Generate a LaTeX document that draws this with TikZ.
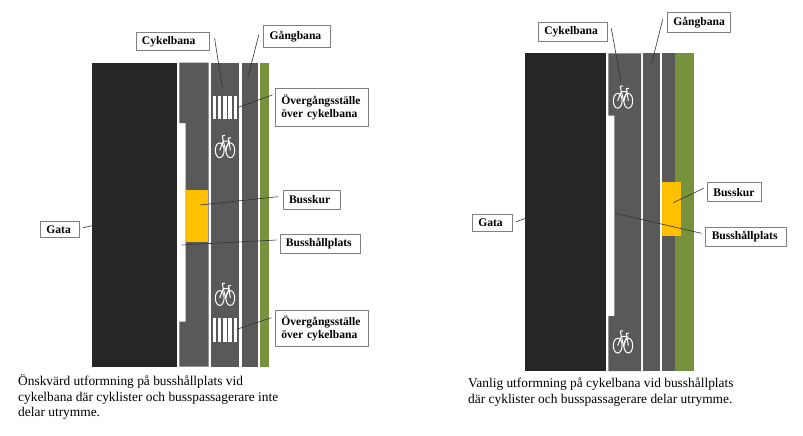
\documentclass[tikz,border=0pt]{standalone}
\usepackage{fontspec}
\setmainfont{Liberation Serif}

\tikzset{
    cykel/.pic={
        \draw[bikeline] (-5.3,3.3) ellipse [x radius=4.4,y radius=7.4];
        \draw[bikeline] (5.3,3.3) ellipse [x radius=4.4,y radius=7.4];
        \draw[bikeline] (-5.3,3.3)--(-1.7,-6)--(4,-6)--(5.3,3.3);
        \draw[bikeline] (-1.7,-6)--(0.7,3.3)--(4,-6);
        \draw[bikeline] (-1.7,-6)--(-2.7,-11)--(0,-11.7);
        \draw[bikeline] (4,-6)--(3.3,-8.7)--(6,-9.3);
    }
}

\begin{document}
\begin{tikzpicture}[
    x=1pt,
    y=-1pt,
    line join=miter,
    gata/.style={
        fill=black!85
    },
    bana/.style={
        fill=black!65
    },
    gras/.style={
        fill={rgb,255:red,118;green,146;blue,60}
    },
    kur/.style={
        fill={rgb,255:red,255;green,192;blue,0}
    },
    rand/.style={
        fill=white
    },
    bikeline/.style={
        draw=white,
        line width=1pt
    },
    etikett/.style={
        draw=black!50,
        fill=white,
        line width=0.6pt,
        inner xsep=6pt,
        inner ysep=0pt,
        align=left,
        font=\fontsize{11.6}{13.5}\selectfont\bfseries
    },
    ledare/.style={
        draw=black!80,
        line width=0.6pt
    },
    bildtext/.style={
        anchor=north west,
        inner sep=0pt,
        align=left,
        font=\fontsize{13.4}{15.6}\selectfont
    }
]

\useasboundingbox (0,0) rectangle (803,436);

% =================================================
% Vänster gata
% =================================================

\fill[gata] (92,62.7) rectangle (176.7,366.7);

% Körfält med busshållplats
\fill[bana] (179.3,62.7)--(208.7,62.7)--(208.7,366.7)--(179.3,366.7)
    --(179.3,321.7)--(185.7,321.7)--(185.7,123)--(179.3,123)--cycle;

\fill[bana] (211,62.7) rectangle (239.3,366.7);
\fill[bana] (242,62.7) rectangle (257.7,366.7);
\fill[gras] (260,62.7) rectangle (268.7,366.7);

\fill[kur] (185.7,189.7) rectangle (207.7,242.3);

% Övergångsställen
\foreach \i in {0,...,4} {
    \fill[rand] (212.7+5.2*\i,95.7) rectangle ++(3.4,23.6);
    \fill[rand] (212.7+5.2*\i,318.3) rectangle ++(3.4,24);
}

\pic at (225,147) {cykel};
\pic at (225,294.7) {cykel};

% =================================================
% Höger gata
% =================================================

\fill[gata] (525.3,53.3) rectangle (606,371);

\fill[bana] (608.3,53.3)--(641,53.3)--(641,371)--(608.3,371)
    --(608.3,316)--(614.3,316)--(614.3,115.7)--(608.3,115.7)--cycle;

\fill[bana] (643.3,53.3) rectangle (659.7,371);
\fill[bana] (662,53.3) rectangle (675,371);
\fill[gras] (675,53.3) rectangle (693.7,371);

\fill[kur] (662,182.3) rectangle (681.3,235.7);

\pic at (623,97.5) {cykel};
\pic at (623,342.3) {cykel};

% =================================================
% Etiketter, vänster
% =================================================

\node[etikett,text width=61.3pt,minimum height=18pt] (cykelL) at (172.6,41.7) {Cykelbana};
\node[etikett,text width=55pt,minimum height=22pt] (gangL) at (297.2,36.2) {Gångbana};
\node[etikett,text width=81pt,minimum height=38.4pt] (overL1) at (321.8,107.5) {Övergångsställe\\över cykelbana};
\node[etikett,text width=45pt,minimum height=19pt] (kurL) at (311.5,199.5) {Busskur};
\node[etikett,text width=68.7pt,minimum height=19.7pt] (hallL) at (320.3,243.8) {Busshållplats};
\node[etikett,text width=81pt,minimum height=36.7pt] (overL2) at (321.8,328.3) {Övergångsställe\\över cykelbana};
\node[etikett,text width=26.7pt,minimum height=16.7pt] (gataL) at (59.7,229.3) {Gata};

% =================================================
% Etiketter, höger
% =================================================

\node[etikett,text width=57.4pt,minimum height=19pt] (cykelR) at (573,32.2) {Cykelbana};
\node[etikett,text width=51.4pt,minimum height=20pt] (gangR) at (699,22.7) {Gångbana};
\node[etikett,text width=42.4pt,minimum height=19pt] (kurR) at (734.5,192.2) {Busskur};
\node[etikett,text width=68.3pt,minimum height=19.4pt] (hallR) at (745.9,237) {Busshållplats};
\node[etikett,text width=28.4pt,minimum height=16.7pt] (gataR) at (492.5,222.7) {Gata};

% =================================================
% Ledare
% =================================================

\coordinate (cykelLm) at (222.7,89);
\coordinate (gangLm) at (247.7,78.3);
\coordinate (overL1m) at (238.3,107.3);
\coordinate (kurLm) at (200,205);
\coordinate (hallLm) at (181.7,245);
\coordinate (overL2m) at (236.7,329.3);
\coordinate (gataLm) at (95,225);

\draw[ledare] ([shift={(5,-3.4)}]cykelL.east)--(cykelLm);
\draw[ledare] ([shift={(-4.7,-1.2)}]gangL.west)--(gangLm);
\draw[ledare] ([shift={(-2.6,-12.5)}]overL1.west)--(overL1m);
\draw[ledare] ([shift={(-4.7,-2.8)}]kurL.west)--(kurLm);
\draw[ledare] ([shift={(-3.3,-3.8)}]hallL.west)--(hallLm);
\draw[ledare] ([shift={(-3.6,-10.6)}]overL2.west)--(overL2m);
\draw[ledare] ([shift={(3.7,-1.6)}]gataL.east)--(gataLm);

\coordinate (cykelRm) at (621,81.7);
\coordinate (gangRm) at (651.7,63.3);
\coordinate (kurRm) at (673.3,202.7);
\coordinate (hallRm) at (615,213.3);
\coordinate (gataRm) at (528.3,217.3);

\draw[ledare] ([shift={(3.3,-3.9)}]cykelR.east)--(cykelRm);
\draw[ledare] ([shift={(-4.3,-3.4)}]gangR.west)--(gangRm);
\draw[ledare] ([shift={(-3.3,-3.9)}]kurR.west)--(kurRm);
\draw[ledare] ([shift={(-4,-3.7)}]hallR.west)--(hallRm);
\draw[ledare] ([shift={(3.3,-1)}]gataR.east)--(gataRm);

% =================================================
% Bildtexter
% =================================================

\node[bildtext] (textL) at (18,374.5) {Önskvärd utformning på busshållplats vid\\cykelbana där cyklister och busspassagerare inte\\delar utrymme.};
\node[bildtext] (textR) at (468,377.5) {Vanlig utformning på cykelbana vid busshållplats\\där cyklister och busspassagerare delar utrymme.};

\end{tikzpicture}
\end{document}
